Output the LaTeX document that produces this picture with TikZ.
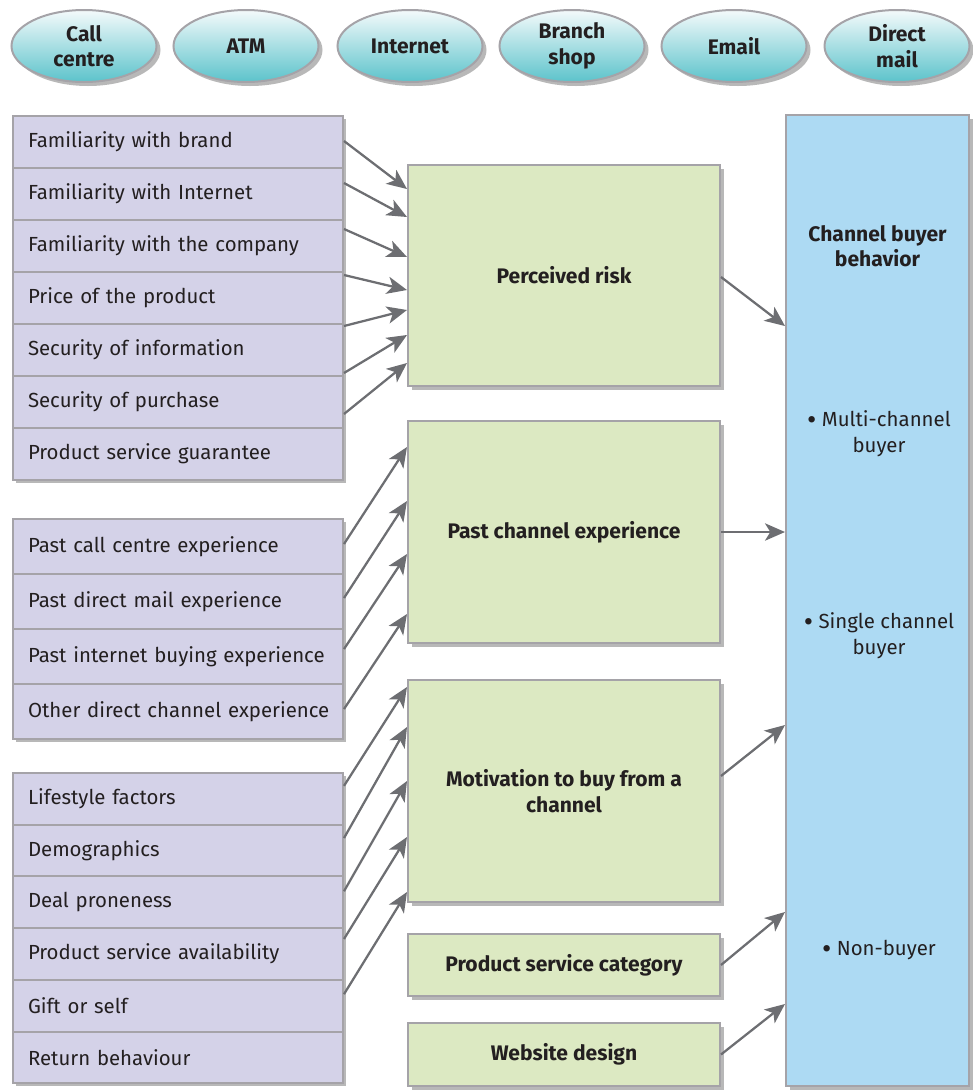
\documentclass[tikz,border=0pt]{standalone}
\usepackage{fontspec}
\setmainfont{Fira Sans}
\usetikzlibrary{shadows,fit,calc,arrows.meta,shapes.geometric}
\definecolor{lav}{HTML}{D4D2E8}
\definecolor{grn}{HTML}{DCE9C2}
\definecolor{blu}{HTML}{ADDAF3}
\definecolor{bord}{HTML}{A5A3A8}
\definecolor{arrc}{HTML}{6D6E72}
\definecolor{txt}{HTML}{231F20}
\definecolor{tealtop}{HTML}{F4FAFB}
\definecolor{tealbot}{HTML}{5CC3CB}
\newcommand{\bodyfont}{\fontsize{15.3}{19.5}\selectfont}
\newcommand{\headfont}{\bfseries\fontsize{15.8}{19.2}\selectfont}
\newcommand{\bul}{\raisebox{-0.13em}{\scalebox{1.4}{•}}}
\tikzset{
  shad/.style={drop shadow={shadow xshift=3pt, shadow yshift=-3pt, opacity=0.28, fill=black}},
  grp/.style={fill=lav, inner sep=0pt, shad},
  rowbox/.style={draw=bord, line width=1.5pt, fill=lav, anchor=north west, inner ysep=0pt, inner xsep=11.25pt, text width=225pt, align=left, text=txt, font=\bodyfont},
  rowa/.style={rowbox, minimum height=39pt},
  rowb/.style={rowbox, minimum height=41.25pt},
  rowc/.style={rowbox, minimum height=38.775pt},
  gbox/.style={draw=bord, line width=1.5pt, fill=grn, inner sep=0pt, minimum width=234pt, align=center, text=txt, font=\headfont, shad},
  bbox/.style={draw=bord, line width=1.5pt, fill=blu, inner sep=0pt, minimum width=137.25pt, minimum height=728.25pt, shad},
  blab/.style={align=center, text=txt, inner sep=0pt, font=\bodyfont},
  chan/.style={ellipse, draw=bord, line width=1.5pt, top color=tealtop, bottom color=tealbot, minimum width=108.75pt, minimum height=54pt, inner sep=0pt, align=center, text=txt, font=\headfont, shad},
  arr/.style={draw=arrc, line width=1.7pt, -{Stealth[length=15pt, width=13pt, inset=4pt]}}
}
\begin{document}
\begin{tikzpicture}[x=0.75pt, y=-0.75pt]
\useasboundingbox (0,0) rectangle (973,1090);

% channel ellipses
\node[chan] (e1) at (84,46) {Call\\centre};
\node[chan] (e2) at (246,46) {ATM};
\node[chan] (e3) at (410,46) {Internet};
\node[chan] (e4) at (572,46) {Branch\\shop};
\node[chan] (e5) at (734,46) {Email};
\node[chan] (e6) at (897,46) {Direct\\mail};

% group backgrounds (shadows)
\node[grp, fit={(12,115)(342,479)}] (g1) {};
\node[grp, fit={(12,518)(342,738)}] (g2) {};
\node[grp, fit={(12,772)(342,1082)}] (g3) {};

% group 1 rows
\node[rowa] (f1) at (12,115) {\mbox{Familiarity with brand}};
\node[rowa] (f2) at (12,167) {\mbox{Familiarity with Internet}};
\node[rowa] (f3) at (12,219) {\mbox{Familiarity with the company}};
\node[rowa] (f4) at (12,271) {\mbox{Price of the product}};
\node[rowa] (f5) at (12,323) {\mbox{Security of information}};
\node[rowa] (f6) at (12,375) {\mbox{Security of purchase}};
\node[rowa] (f7) at (12,427) {\mbox{Product service guarantee}};

% group 2 rows
\node[rowb] (p1) at (12,518) {\mbox{Past call centre experience}};
\node[rowb] (p2) at (12,573) {\mbox{Past direct mail experience}};
\node[rowb] (p3) at (12,628) {\mbox{Past internet buying experience}};
\node[rowb] (p4) at (12,683) {\mbox{Other direct channel experience}};

% group 3 rows
\node[rowc] (m1) at (12,772) {\mbox{Lifestyle factors}};
\node[rowc] (m2) at (12,823.7) {\mbox{Demographics}};
\node[rowc] (m3) at (12,875.4) {\mbox{Deal proneness}};
\node[rowc] (m4) at (12,927.1) {\mbox{Product service availability}};
\node[rowc] (m5) at (12,978.8) {\mbox{Gift or self}};
\node[rowc] (m6) at (12,1030.5) {\mbox{Return behaviour}};

% green boxes
\node[gbox, minimum height=165.75pt] (pr) at (564,275.5) {Perceived risk};
\node[gbox, minimum height=166.5pt] (pc) at (564,532) {Past channel experience};
\node[gbox, minimum height=166.5pt] (mo) at (564,791) {Motivation to buy from a\\channel};
\node[gbox, minimum height=46.5pt] (ps) at (564,965) {Product service category};
\node[gbox, minimum height=47.25pt] (wd) at (564,1054.5) {Website design};

% blue box
\node[bbox] (cb) at (877.5,600.5) {};
\node[blab, font=\headfont] (cbt) at (877.5,246) {Channel buyer\\behavior};
\node[blab] (cb1) at (879,434) {\bul\ Multi-channel\\buyer};
\node[blab] (cb2) at (879,636) {\bul\ Single channel\\buyer};
\node[blab] (cb3) at (879,950) {\bul\ Non-buyer};

% arrows into perceived risk
\draw[arr] ($(f1.east)+(0,-1)$) -- ($(pr.north west)+(0,25)$);
\draw[arr] ($(f2.east)+(0,-11)$) -- ($(pr.north west)+(0,53)$);
\draw[arr] ($(f3.east)+(0,-17)$) -- ($(pr.north west)+(0,93)$);
\draw[arr] ($(f4.east)+(0,-23)$) -- ($(pr.north west)+(0,126)$);
\draw[arr] ($(f5.east)+(0,-24)$) -- ($(pr.north west)+(0,146)$);
\draw[arr] ($(f6.east)+(0,-29)$) -- ($(pr.north west)+(0,171)$);
\draw[arr] ($(f7.east)+(0,-40)$) -- ($(pr.north west)+(0,199)$);

% arrows into past channel experience
\draw[arr] ($(p1.east)+(0,-2.5)$) -- ($(pc.north west)+(0,27)$);
\draw[arr] ($(p2.east)+(0,-3.5)$) -- ($(pc.north west)+(0,81)$);
\draw[arr] ($(p3.east)+(0,-7.5)$) -- ($(pc.north west)+(0,134)$);
\draw[arr] ($(p4.east)+(0,-2.5)$) -- ($(pc.north west)+(0,194)$);

% arrows into motivation
\draw[arr] ($(m1.east)+(0,-13)$) -- ($(mo.north west)+(0,8)$);
\draw[arr] ($(m2.east)+(0,-12.5)$) -- ($(mo.north west)+(0,48)$);
\draw[arr] ($(m3.east)+(0,-11)$) -- ($(mo.north west)+(0,102)$);
\draw[arr] ($(m4.east)+(0,-15)$) -- ($(mo.north west)+(0,158)$);
\draw[arr] ($(m5.east)+(0,-11.5)$) -- ($(mo.north west)+(0,213)$);

% arrows into channel buyer behavior
\draw[arr] ($(pr.north east)+(0,113)$) -- ($(cb.north west)+(0,212)$);
\draw[arr] (pc.east) -- (pc.east -| cb.west);
\draw[arr] ($(mo.north east)+(0,97)$) -- ($(cb.north west)+(0,611)$);
\draw[arr] (ps.east) -- ($(cb.north west)+(0,798)$);
\draw[arr] (wd.east) -- ($(cb.north west)+(0,890)$);
\end{tikzpicture}
\end{document}
